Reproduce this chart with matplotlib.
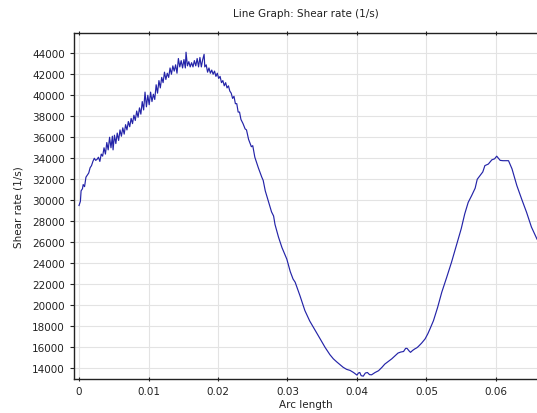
# Line graph: shear rate vs arc length (COMSOL-like style)

import matplotlib
matplotlib.use('Agg')
import matplotlib.pyplot as plt
from matplotlib.ticker import MultipleLocator

tytul = 'Line Graph: Shear rate (1/s)'
etykieta_x = 'Arc length'
etykieta_y = 'Shear rate (1/s)'

# arc length values
dlugosc = [
    0.0000, 0.0002, 0.0003, 0.0005, 0.0006, 0.0008, 0.0010, 0.0012, 0.0014, 0.0016,
    0.0018, 0.0020, 0.0022, 0.0024, 0.0026, 0.0028, 0.0030, 0.0032, 0.0034, 0.0036,
    0.0038, 0.0040, 0.0042, 0.0044, 0.0046, 0.0048, 0.0049, 0.0051, 0.0053, 0.0055,
    0.0057, 0.0059, 0.0061, 0.0063, 0.0065, 0.0067, 0.0069, 0.0071, 0.0073, 0.0075,
    0.0077, 0.0079, 0.0081, 0.0083, 0.0085, 0.0087, 0.0089, 0.0091, 0.0093, 0.0095,
    0.0097, 0.0099, 0.0101, 0.0103, 0.0105, 0.0107, 0.0109, 0.0111, 0.0113, 0.0115,
    0.0117, 0.0119, 0.0121, 0.0123, 0.0125, 0.0127, 0.0129, 0.0131, 0.0133, 0.0135,
    0.0137, 0.0139, 0.0141, 0.0143, 0.0145, 0.0147, 0.0149, 0.0151, 0.0153, 0.0154,
    0.0156, 0.0158, 0.0160, 0.0162, 0.0164, 0.0166, 0.0168, 0.0170, 0.0172, 0.0174,
    0.0176, 0.0178, 0.0180, 0.0181, 0.0183, 0.0185, 0.0187, 0.0189, 0.0191, 0.0193,
    0.0195, 0.0197, 0.0199, 0.0201, 0.0203, 0.0205, 0.0207, 0.0209, 0.0211, 0.0213,
    0.0215, 0.0217, 0.0219, 0.0221, 0.0223, 0.0225, 0.0227, 0.0229, 0.0231, 0.0233,
    0.0236, 0.0239, 0.0241, 0.0244, 0.0248, 0.0250, 0.0253, 0.0258, 0.0263, 0.0265,
    0.0268, 0.0272, 0.0277, 0.0280, 0.0282, 0.0287, 0.0292, 0.0299, 0.0304, 0.0308,
    0.0311, 0.0318, 0.0325, 0.0332, 0.0340, 0.0347, 0.0354, 0.0361, 0.0366, 0.0371,
    0.0380, 0.0385, 0.0390, 0.0395, 0.0400, 0.0402, 0.0404, 0.0406, 0.0409, 0.0412,
    0.0415, 0.0418, 0.0421, 0.0426, 0.0431, 0.0436, 0.0440, 0.0445, 0.0450, 0.0455,
    0.0459, 0.0463, 0.0467, 0.0470, 0.0472, 0.0475, 0.0477, 0.0480, 0.0483, 0.0486,
    0.0488, 0.0493, 0.0498, 0.0502, 0.0505, 0.0510, 0.0516, 0.0522, 0.0529, 0.0536,
    0.0543, 0.0550, 0.0555, 0.0560, 0.0565, 0.0570, 0.0573, 0.0577, 0.0581, 0.0584,
    0.0589, 0.0594, 0.0598, 0.0601, 0.0606, 0.0610, 0.0614, 0.0618, 0.0623, 0.0630,
    0.0637, 0.0644, 0.0651, 0.0659,
]

# shear rate (1/s)
szybkosc_scinania = [
    29500, 29900, 30900, 31100, 31500, 31300, 32200, 32400, 32600, 33100,
    33300, 33700, 34000, 33800, 33900, 34100, 33700, 34400, 34200, 35000,
    34400, 35500, 34800, 36000, 35000, 36100, 34800, 36200, 35400, 36400,
    35700, 36700, 36100, 36900, 36300, 37200, 36700, 37500, 37000, 37800,
    37300, 38100, 37600, 38500, 37900, 38800, 38200, 39400, 38600, 40300,
    38900, 40000, 39100, 40300, 39400, 40100, 39600, 41000, 40200, 41400,
    40700, 41700, 41200, 42200, 41500, 42100, 41700, 42600, 42000, 42800,
    42300, 42900, 42100, 43500, 42700, 43300, 42600, 43400, 42600, 44100,
    42800, 43200, 42700, 43100, 42700, 43300, 42800, 43500, 42700, 43600,
    42700, 43400, 43900, 42700, 42900, 42200, 42600, 42100, 42400, 42000,
    42300, 41800, 42100, 41600, 41800, 41200, 41400, 40900, 41200, 40700,
    40900, 40400, 40200, 39700, 39900, 39200, 39200, 38400, 38400, 37700,
    37300, 36800, 36700, 35800, 35100, 35200, 34100, 33100, 32200, 31900,
    30900, 30000, 28900, 28500, 27700, 26500, 25500, 24400, 23200, 22500,
    22200, 20900, 19500, 18500, 17600, 16800, 16000, 15300, 14900, 14600,
    14100, 13900, 13800, 13600, 13350, 13550, 13600, 13300, 13250, 13550,
    13600, 13400, 13380, 13600, 13770, 14100, 14400, 14650, 14900, 15200,
    15450, 15550, 15600, 15900, 15900, 15650, 15520, 15700, 15840, 15950,
    16060, 16400, 16800, 17300, 17750, 18530, 19800, 21250, 22650, 24100,
    25700, 27300, 28700, 29800, 30450, 31150, 32000, 32350, 32700, 33300,
    33450, 33850, 33950, 34200, 33800, 33770, 33770, 33770, 33000, 31400,
    30100, 28850, 27450, 26300,
]

def rysuj_wykres():
    fig = plt.figure(figsize=(5.37, 4.14), dpi=100)
    ax = fig.add_axes([0.1378, 0.0821, 0.8622, 0.8358])

    ax.plot(dlugosc, szybkosc_scinania, color='#2424a8', linewidth=0.85, zorder=3)

    ax.set_xlim(-0.00072, 0.0659)
    ax.set_ylim(12980, 45930)
    ax.yaxis.set_major_locator(MultipleLocator(2000))
    ax.set_xticks([0, 0.01, 0.02, 0.03, 0.04, 0.05, 0.06])
    ax.set_xticklabels(['0', '0.01', '0.02', '0.03', '0.04', '0.05', '0.06'])

    ax.grid(True, color='#e3e3e3', linewidth=0.8, zorder=0)
    ax.tick_params(axis='both', labelsize=7.5, colors='#222222', length=3, width=0.8)
    ax.tick_params(axis='x', top=True, direction='inout')
    ax.spines['right'].set_visible(False)
    for s in ('left', 'bottom', 'top'):
        ax.spines[s].set_linewidth(1.0)
        ax.spines[s].set_color('#222222')

    ax.set_title(tytul, fontsize=7.5, color='#222222', pad=12)
    ax.set_xlabel(etykieta_x, fontsize=7.5, color='#222222', labelpad=2)
    ax.set_ylabel(etykieta_y, fontsize=7.5, color='#222222', labelpad=6)

    fig.savefig('out.png', dpi=100)

if __name__ == '__main__':
    rysuj_wykres()
